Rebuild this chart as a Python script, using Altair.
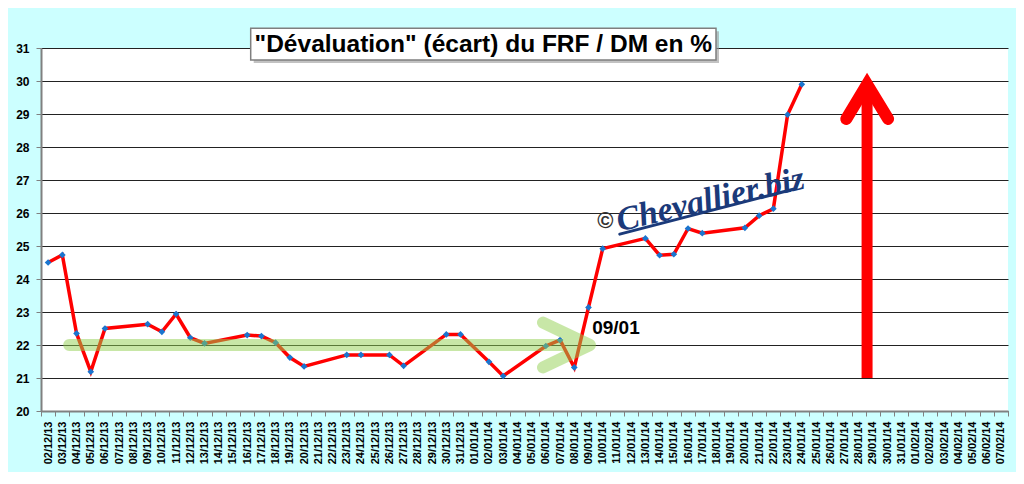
import altair as alt
import pandas as pd

# ---------------- data ----------------
axis_labels = [
    "02/12/13", "03/12/13", "04/12/13", "05/12/13", "06/12/13", "07/12/13", "08/12/13",
    "09/12/13", "10/12/13", "11/12/13", "12/12/13", "13/12/13", "14/12/13", "15/12/13",
    "16/12/13", "17/12/13", "18/12/13", "19/12/13", "20/12/13", "21/12/13", "22/12/13",
    "23/12/13", "24/12/13", "25/12/13", "26/12/13", "27/12/13", "28/12/13", "29/12/13",
    "30/12/13", "31/12/13", "01/01/14", "02/01/14", "03/01/14", "04/01/14", "05/01/14",
    "06/01/14", "07/01/14", "08/01/14", "09/01/14", "10/01/14", "11/01/14", "12/01/14",
    "13/01/14", "14/01/14", "15/01/14", "16/01/14", "17/01/14", "18/01/14", "19/01/14",
    "20/01/14", "21/01/14", "22/01/14", "23/01/14", "24/01/14", "25/01/14", "26/01/14",
    "27/01/14", "28/01/14", "29/01/14", "30/01/14", "31/01/14", "01/02/14", "02/02/14",
    "03/02/14", "04/02/14", "05/02/14", "06/02/14", "07/02/14",
]

obs_dates = [
    "02/12/13", "03/12/13", "04/12/13", "05/12/13", "06/12/13",
    "09/12/13", "10/12/13", "11/12/13", "12/12/13", "13/12/13",
    "16/12/13", "17/12/13", "18/12/13", "19/12/13", "20/12/13",
    "23/12/13", "24/12/13", "26/12/13", "27/12/13",
    "30/12/13", "31/12/13", "02/01/14", "03/01/14",
    "06/01/14", "07/01/14", "08/01/14", "09/01/14", "10/01/14",
    "13/01/14", "14/01/14", "15/01/14", "16/01/14", "17/01/14",
    "20/01/14", "21/01/14", "22/01/14", "23/01/14", "24/01/14",
]
obs_values = [
    24.50, 24.73, 22.35, 21.19, 22.50,
    22.63, 22.40, 22.94, 22.22, 22.05,
    22.30, 22.27, 22.07, 21.62, 21.35,
    21.70, 21.70, 21.70, 21.37,
    22.32, 22.32, 21.49, 21.06,
    21.97, 22.15, 21.32, 23.14, 24.92,
    25.23, 24.72, 24.75, 25.53, 25.39,
    25.55, 25.92, 26.13, 28.98, 29.90,
]

y_ticks = list(range(20, 32))

title_text = '"Dévaluation" (écart) du FRF / DM en %'
date_note = "09/01"
watermark = "Chevallier.biz"
copyright_sign = "©"

# annotation geometry in data units (x = category position, y = %)
green_x = [35.3, 38.6, 35.3, 38.6, 1.98]
green_y = [21.32, 22.0, 22.68, 22.0, 22.0]
red_shaft_x = [58.09, 58.09]
red_shaft_y = [21.0, 29.7]
red_head_x = [56.63, 58.09, 59.57]
red_head_y = [28.85, 29.9, 28.85]
underline_x = [40.7, 52.9]
underline_y = [25.36, 26.72]

# ---------------- chart ----------------
W, H = 967, 363
N = len(axis_labels)
BAND = W / N
FONT = "Liberation Sans"

df = pd.DataFrame({
    "pos": [axis_labels.index(d) + 0.5 for d in obs_dates],
    "val": obs_values,
    "date": obs_dates,
})

xscale = alt.Scale(domain=[0, N], nice=False, zero=False)
yscale = alt.Scale(domain=[20, 31], nice=False, zero=False)

label_js = "[" + ",".join("'%s'" % s for s in axis_labels) + "]"

x_axis = alt.Axis(
    values=list(range(N + 1)),
    labelExpr=label_js + "[datum.value] || ''",
    labelAngle=-90,
    labelOffset=BAND / 2,
    labelFontSize=11,
    labelFontWeight="bold",
    labelFont=FONT,
    labelColor="black",
    labelOverlap=False,
    labelFlush=False,
    labelPadding=5,
    tickSize=5,
    tickColor="#808080",
    domainColor="#808080",
    domainWidth=2,
    grid=False,
    title=None,
)
y_axis = alt.Axis(
    values=y_ticks,
    labelFontSize=12,
    labelFontWeight="bold",
    labelFont=FONT,
    labelColor="black",
    labelPadding=7,
    tickSize=5,
    tickColor="#808080",
    domainColor="#808080",
    domainWidth=2,
    gridColor="#222222",
    gridWidth=1,
    title=None,
)


def xq():
    return alt.X("pos:Q", scale=xscale, axis=x_axis)


def yq():
    return alt.Y("val:Q", scale=yscale, axis=y_axis)


line = alt.Chart(df).mark_line(color="#FF0000", strokeWidth=3.5).encode(
    x=xq(), y=yq()
)
points = alt.Chart(df).mark_point(
    shape="diamond", filled=True, color="#1A75CF", size=45, opacity=1
).encode(x=xq(), y=yq())

wm_df = pd.DataFrame({"pos": [47.07], "val": [26.39], "t": [watermark]})
wm = alt.Chart(wm_df).mark_text(
    font="Liberation Serif", fontStyle="italic", fontWeight="bold", fontSize=34,
    color="#1B3A7A", angle=347, align="center", baseline="middle",
).encode(x=xq(), y=yq(), text="t:N")

cp_df = pd.DataFrame({"pos": [39.68], "val": [25.76], "t": [copyright_sign]})
cp = alt.Chart(cp_df).mark_text(
    font=FONT, fontWeight="bold", fontSize=22, color="#333333",
    align="center", baseline="middle",
).encode(x=xq(), y=yq(), text="t:N")

ul_df = pd.DataFrame({"pos": underline_x, "val": underline_y})
ul = alt.Chart(ul_df).mark_line(color="#1B3A7A", strokeWidth=3, strokeCap="round").encode(
    x=xq(), y=yq()
)

green_df = pd.DataFrame({"pos": green_x, "val": green_y, "ord": list(range(len(green_x)))})
green = alt.Chart(green_df).mark_line(
    color="#92D050", opacity=0.5, strokeWidth=12, strokeCap="round", strokeJoin="round"
).encode(x=xq(), y=yq(), order=alt.Order("ord:Q"))

shaft_df = pd.DataFrame({"pos": red_shaft_x, "val": red_shaft_y})
shaft = alt.Chart(shaft_df).mark_line(color="#FF0000", strokeWidth=11, strokeCap="butt").encode(
    x=xq(), y=yq()
)
head_df = pd.DataFrame({"pos": red_head_x, "val": red_head_y, "ord": [0, 1, 2]})
head = alt.Chart(head_df).mark_line(
    color="#FF0000", strokeWidth=12, strokeCap="round", strokeJoin="miter"
).encode(x=xq(), y=yq(), order=alt.Order("ord:Q"))

note_df = pd.DataFrame({"pos": [38.76], "val": [22.33], "t": [date_note]})
note = alt.Chart(note_df).mark_text(
    font=FONT, fontWeight="bold", fontSize=19, color="black",
    align="left", baseline="alphabetic",
).encode(x=xq(), y=yq(), text="t:N")

tdf = pd.DataFrame({"t": [title_text]})
title_shadow = alt.Chart(tdf).mark_rect(fill="#9a9a9a", opacity=0.6).encode(
    x=alt.value(212.7), x2=alt.value(678), y=alt.value(-16.7), y2=alt.value(15)
)
title_box = alt.Chart(tdf).mark_rect(fill="white", stroke="#7f7f7f", strokeWidth=1.5).encode(
    x=alt.value(209.7), x2=alt.value(675), y=alt.value(-19.7), y2=alt.value(12)
)
title = alt.Chart(tdf).mark_text(
    font=FONT, fontWeight="bold", fontSize=24.5, color="black",
    align="center", baseline="middle",
).encode(x=alt.value(442.3), y=alt.value(-3.5), text="t:N")

chart = alt.layer(
    line, wm, ul, cp, points, green, shaft, head, note, title_shadow, title_box, title
).properties(
    width=W,
    height=H,
    autosize=alt.AutoSizeParams(type="none"),
    padding={"left": 33, "top": 40, "right": 8, "bottom": 61},
).configure(
    background="#CCFFFF"
).configure_view(
    fill="white", strokeWidth=0
)

chart.save("out.html", embed_options={"renderer": "svg", "actions": False})
